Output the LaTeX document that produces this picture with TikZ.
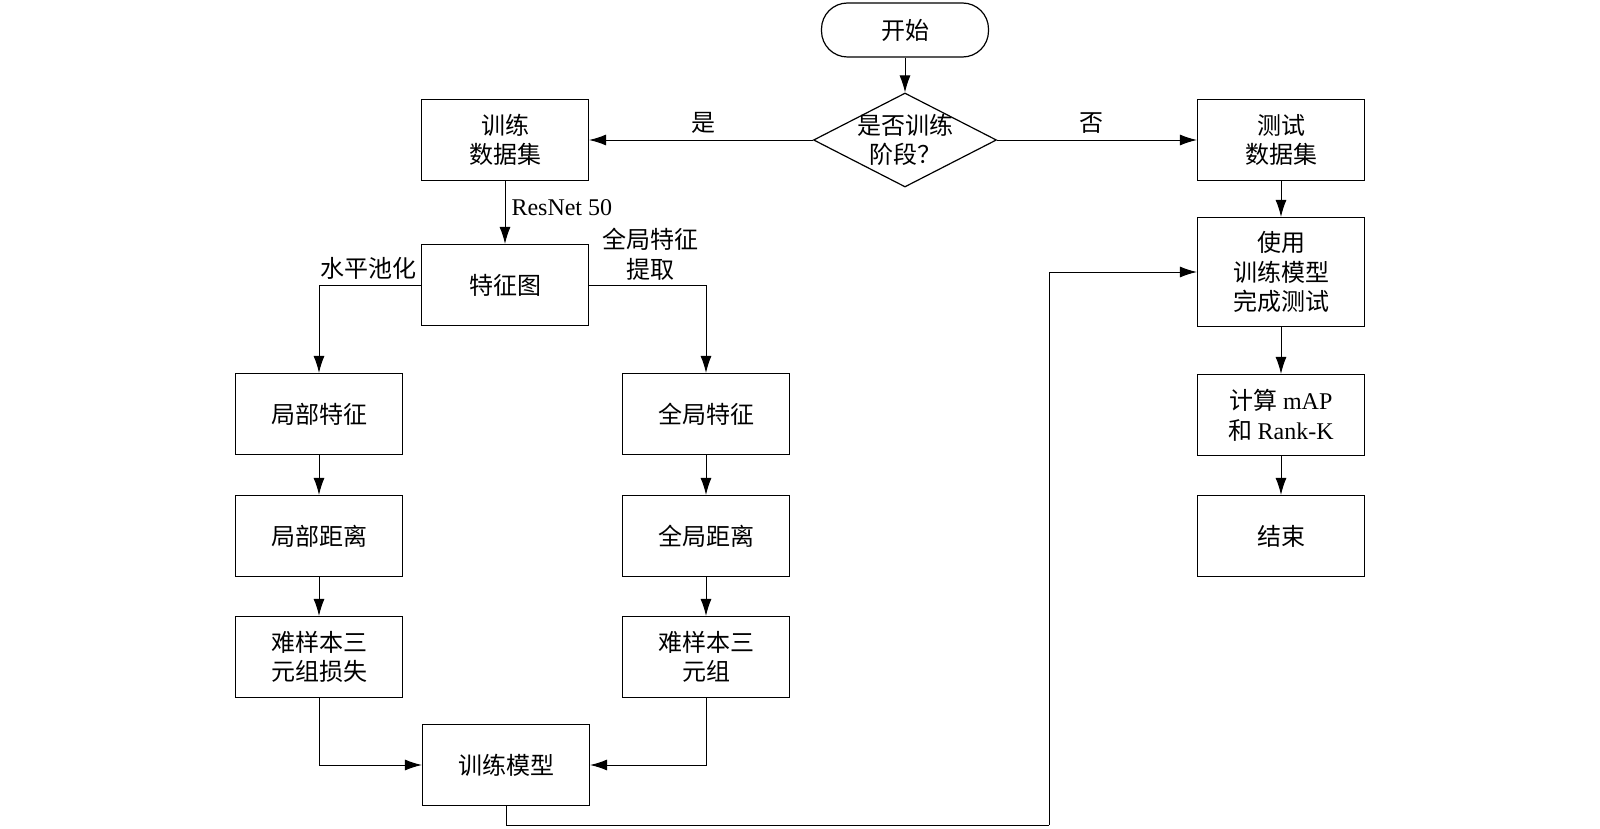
\documentclass[tikz,border=0pt]{standalone}
\usepackage{fontspec}
\setmainfont{Liberation Serif}
\newfontfamily\cjk{Noto Sans CJK SC}
\usetikzlibrary{shapes.geometric,arrows.meta}
\tikzset{
  box/.style={draw, line width=0.6pt, minimum width=83.5pt, minimum height=40.5pt, inner sep=0pt, align=center},
  term/.style={draw, line width=0.6pt, rounded corners=13pt, minimum width=83.5pt, minimum height=27pt, inner sep=0pt, align=center},
  dia/.style={draw, line width=0.6pt, diamond, minimum width=91.5pt, minimum height=47pt, inner sep=0pt},
  arr/.style={line width=0.5pt, -{Latex[length=8.5pt,width=5.5pt]}},
  lab/.style={inner sep=0pt, align=center},
  every node/.style={font=\cjk\fontsize{12}{14.8}\selectfont}
}
\begin{document}
\begin{tikzpicture}[x=0.5pt,y=-0.5pt]
\useasboundingbox (0,0) rectangle (1600,829);
\node[term] (start) at (905,30) {开始};
\node[dia, label={[lab]center:{是否训练\\阶段？}}] (dec) at (905,140) {};
\node[box] (train) at (505,140) {训练\\数据集};
\node[box] (test) at (1281,140) {测试\\数据集};
\node[box] (feat) at (505,285) {特征图};
\node[box, minimum height=54.5pt] (use) at (1281,272) {使用\\训练模型\\完成测试};
\node[box] (map) at (1281,415) {计算 {\rmfamily mAP}\\和 {\rmfamily Rank-K}};
\node[box] (end) at (1281,536) {结束};
\node[box] (lf) at (319,414) {局部特征};
\node[box] (gf) at (706,414) {全局特征};
\node[box] (ld) at (319,536) {局部距离};
\node[box] (gd) at (706,536) {全局距离};
\node[box] (lt) at (319,657) {难样本三\\元组损失};
\node[box] (gt) at (706,657) {难样本三\\元组};
\node[box] (model) at (506,765) {训练模型};
\coordinate (c1) at (1049,825);

\draw[arr] (start) -- (dec);
\draw[arr] (dec.west) -- node[lab, above=3pt, pos=0.49] {是} (train.east);
\draw[arr] (dec.east) -- node[lab, above=3pt, pos=0.47] {否} (test.west);
\draw[arr] (train) -- node[lab, right=3pt, pos=0.42, font=\rmfamily\fontsize{12}{14.5}\selectfont] {ResNet 50} (feat);
\draw[arr] (feat.west) -| (lf.north);
\node[lab] (l1) at (368,268) {水平池化};
\draw[arr] (feat.east) -| (gf.north);
\node[lab] (l2) at (650,254) {全局特征\\提取};
\draw[arr] (lf) -- (ld);
\draw[arr] (ld) -- (lt);
\draw[arr] (gf) -- (gd);
\draw[arr] (gd) -- (gt);
\draw[arr] (lt.south) |- (model.west);
\draw[arr] (gt.south) |- (model.east);
\draw[line width=0.5pt] (model.south) |- (c1);
\draw[arr] (c1) |- (use.west);
\draw[arr] (test) -- (use);
\draw[arr] (use) -- (map);
\draw[arr] (map) -- (end);
\end{tikzpicture}
\end{document}
